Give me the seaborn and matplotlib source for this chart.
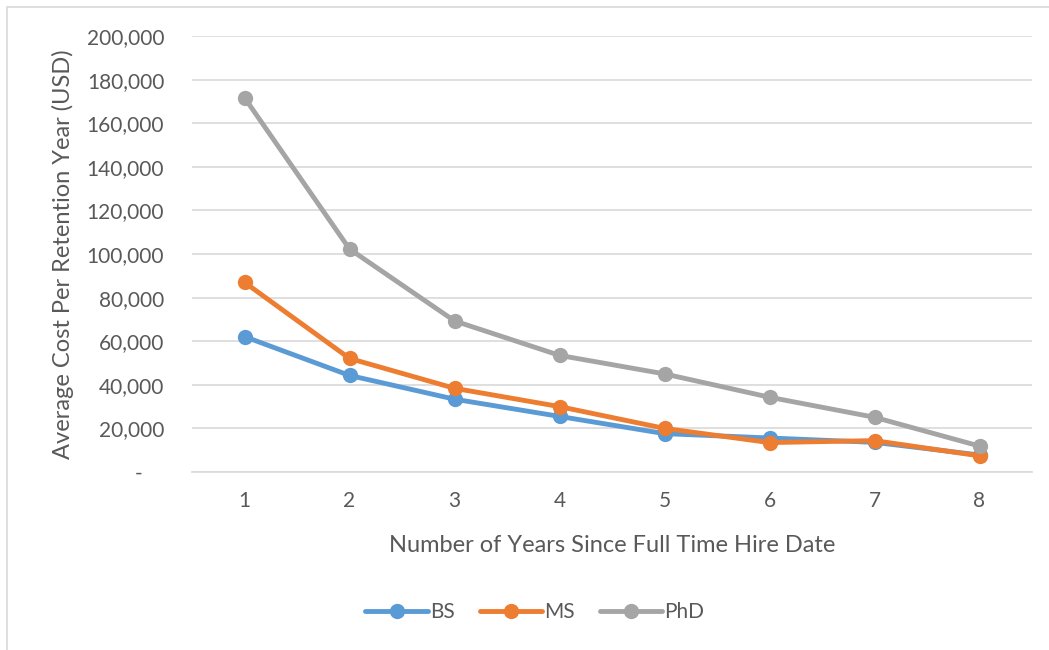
import pandas as pd
import matplotlib
matplotlib.use('Agg')
import matplotlib.pyplot as plt
import seaborn as sns
from matplotlib.lines import Line2D
from matplotlib.ticker import FuncFormatter

# values
years = [1, 2, 3, 4, 5, 6, 7, 8]
bs = [62100, 44300, 33400, 25500, 17600, 15600, 13600, 7800]
ms = [87000, 52100, 38400, 30000, 20000, 13500, 14400, 7400]
phd = [171700, 102300, 69300, 53500, 45000, 34300, 25100, 11900]
degrees = ['BS', 'MS', 'PhD']
colors = ['#5B9BD5', '#ED7D31', '#A5A5A5']

df = pd.DataFrame({'Year': years * 3,
                   'Cost': bs + ms + phd,
                   'Degree': [d for d in degrees for _ in years]})

sns.set_theme(style='white')
plt.rcParams['font.family'] = ['Lato', 'DejaVu Sans']
txt = '#595959'
grid = '#d9d9d9'

fig = plt.figure(figsize=(10.49, 6.5), dpi=100)
ax = fig.add_axes([192 / 1049, 1 - 472 / 650, (1032 - 192) / 1049, (472 - 36) / 650])

sns.lineplot(data=df, x='Year', y='Cost', hue='Degree', palette=colors,
             marker='o', markersize=11, markeredgewidth=0, linewidth=3.5,
             ax=ax)

ax.set_xlim(0.5, 8.5)
ax.set_ylim(0, 200000)
ax.set_xticks(years)
ax.set_yticks(range(0, 200001, 20000))
ax.yaxis.set_major_formatter(FuncFormatter(lambda v, p: '-    ' if v == 0 else f'{v:,.0f}'))
ax.grid(axis='y', color=grid, linewidth=1.2)
ax.set_axisbelow(True)
for s in ['left', 'right', 'top']:
    ax.spines[s].set_visible(False)
ax.spines['bottom'].set_color(grid)
ax.spines['bottom'].set_linewidth(1.2)
ax.tick_params(axis='y', length=0, pad=20, labelsize=15, labelcolor=txt)
ax.tick_params(axis='x', length=0, pad=14, labelsize=15, labelcolor=txt)

ax.set_xlabel('Number of Years Since Full Time Hire Date', fontsize=17, color=txt, labelpad=17)
ax.set_ylabel('Average Cost Per Retention Year (USD)', fontsize=17, color=txt, labelpad=9)

handles, labels = ax.get_legend_handles_labels()
ax.get_legend().remove()
fig.legend(handles, labels, loc='center', bbox_to_anchor=(535 / 1049, 1 - 612 / 650),
           ncol=3, frameon=False, fontsize=15, labelcolor=txt,
           handlelength=3.0, handletextpad=0.1, columnspacing=1.2)

# chart area border (top and left visible)
fig.add_artist(Line2D([7 / 1049, 1], [1 - 7 / 650, 1 - 7 / 650], color=grid, lw=1.2, transform=fig.transFigure))
fig.add_artist(Line2D([7 / 1049, 7 / 1049], [0, 1 - 7 / 650], color=grid, lw=1.2, transform=fig.transFigure))

fig.savefig('out.png', dpi=100, facecolor='white')
